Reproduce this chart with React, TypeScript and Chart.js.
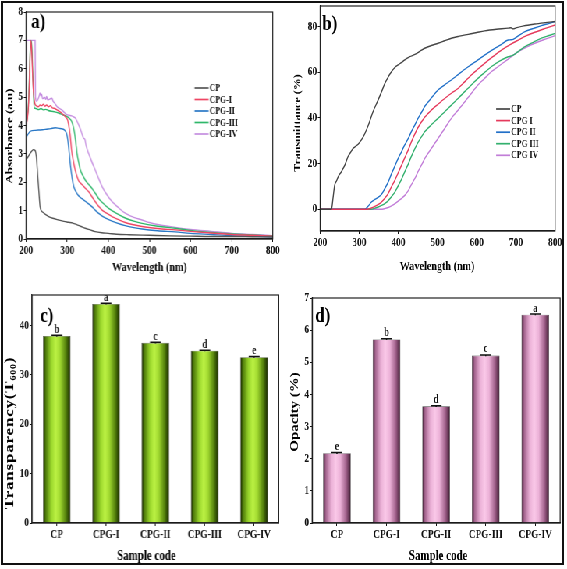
import React, { useEffect, useRef } from "react";
import { Chart, registerables } from "chart.js";
Chart.register(...registerables);

const S = 0.78; // horizontal squeeze of the whole figure
const FONT = "'Liberation Serif', 'Times New Roman', serif";

// ---------- Panel a: absorbance ----------
const wavelengthTicks = [200, 300, 400, 500, 600, 700, 800];
const absTicks = [0, 1, 2, 3, 4, 5, 6, 7, 8];
const absLabels = ["CP", "CPG-I", "CPG-II", "CPG-III", "CPG-IV"];
const absColors = ["#555555", "#ee4563", "#2a78c6", "#2fb76a", "#c58ee0"];

const absCP: [number, number][] = [
  [200, 2.79], [205, 2.9], [210, 3.02], [215, 3.12], [218, 3.15], [222, 3.12], [225, 2.9], [228, 2.3],
  [231, 1.7], [234, 1.15], [237, 1.0], [240, 0.95], [247, 0.87], [254, 0.8], [265, 0.73], [279, 0.67],
  [292, 0.62], [303, 0.59], [314, 0.56], [324, 0.5], [334, 0.44], [344, 0.38], [356, 0.32], [368, 0.26],
  [384, 0.22], [400, 0.2], [420, 0.17], [450, 0.15], [500, 0.13], [550, 0.11], [600, 0.1], [650, 0.09],
  [700, 0.09], [750, 0.08], [800, 0.07],
];
const absCPG1: [number, number][] = [
  [200, 4.0], [203, 4.2], [206, 4.7], [208, 5.5], [210, 6.5], [212, 7.0], [214, 6.6], [216, 5.8],
  [218, 5.2], [220, 4.9], [222, 4.75], [226, 4.68], [230, 4.66], [234, 4.72], [238, 4.7], [242, 4.75],
  [246, 4.68], [250, 4.72], [255, 4.66], [259, 4.7], [264, 4.62], [270, 4.6], [275, 4.55], [281, 4.5],
  [286, 4.44], [291, 4.38], [296, 4.3], [301, 4.2], [304, 4.0], [307, 3.7], [309, 3.4], [311, 3.1],
  [315, 2.75], [320, 2.4], [324, 2.2], [328, 2.05], [334, 1.95], [340, 1.86], [346, 1.76], [352, 1.67],
  [360, 1.5], [368, 1.32], [376, 1.16], [385, 1.02], [397, 0.9], [409, 0.79], [425, 0.68], [441, 0.58],
  [462, 0.5], [482, 0.44], [520, 0.37], [563, 0.32], [600, 0.27], [650, 0.21], [700, 0.16], [750, 0.13],
  [800, 0.1],
];
const absCPG2: [number, number][] = [
  [200, 3.55], [203, 3.65], [207, 3.74], [210, 3.79], [215, 3.82], [222, 3.83], [230, 3.84], [240, 3.85],
  [250, 3.87], [260, 3.89], [271, 3.92], [280, 3.9], [288, 3.88], [294, 3.83], [299, 3.7], [302, 3.45],
  [305, 3.05], [308, 2.6], [312, 2.15], [316, 1.85], [322, 1.65], [328, 1.52], [336, 1.42], [344, 1.33],
  [352, 1.24], [360, 1.14], [368, 1.02], [376, 0.91], [388, 0.78], [401, 0.68], [420, 0.57], [441, 0.47],
  [462, 0.4], [482, 0.35], [520, 0.29], [563, 0.25], [600, 0.2], [650, 0.16], [700, 0.12], [750, 0.1],
  [800, 0.08],
];
const absCPG3: [number, number][] = [
  [200, 4.0], [203, 4.25], [206, 4.8], [208, 5.6], [210, 6.6], [212, 7.0], [214, 6.8], [216, 6.0],
  [218, 5.2], [220, 4.62], [224, 4.6], [230, 4.56], [236, 4.6], [242, 4.55], [248, 4.57], [254, 4.53],
  [262, 4.5], [270, 4.48], [279, 4.44], [289, 4.38], [299, 4.32], [305, 4.26], [311, 4.14], [315, 3.95],
  [318, 3.73], [321, 3.4], [324, 3.02], [328, 2.7], [332, 2.44], [338, 2.24], [344, 2.08], [352, 1.93],
  [360, 1.79], [368, 1.62], [376, 1.44], [388, 1.25], [401, 1.08], [420, 0.9], [441, 0.74], [462, 0.63],
  [482, 0.55], [520, 0.45], [563, 0.38], [600, 0.3], [650, 0.23], [700, 0.18], [750, 0.14], [800, 0.11],
];
const absCPG4: [number, number][] = [
  [200, 4.0], [201, 7.0], [222, 7.0], [223, 5.0], [226, 4.85], [230, 4.96], [232, 5.05], [234, 5.15],
  [236, 5.05], [238, 5.1], [240, 4.95], [242, 4.96], [245, 5.0], [248, 4.92], [250, 5.02], [253, 4.9],
  [256, 4.92], [260, 4.95], [263, 4.96], [266, 4.85], [270, 4.78], [275, 4.67], [281, 4.6], [287, 4.55],
  [293, 4.46], [299, 4.38], [305, 4.36], [311, 4.34], [316, 4.3], [320, 4.26], [324, 4.15], [328, 4.02],
  [334, 3.8], [340, 3.55], [343, 3.52], [346, 3.3], [352, 3.02], [360, 2.72], [368, 2.44], [376, 2.15],
  [385, 1.85], [397, 1.55], [409, 1.32], [425, 1.1], [441, 0.91], [462, 0.76], [482, 0.67], [500, 0.58],
  [523, 0.5], [563, 0.41], [600, 0.34], [650, 0.27], [700, 0.2], [750, 0.16], [800, 0.12],
];

// ---------- Panel b: transmittance ----------
const transTicks = [0, 20, 40, 60, 80];
const transLabels = ["CP", "CPG I", "CPG II", "CPG III", "CPG IV"];
const transColors = ["#454545", "#e53a5c", "#2270c8", "#33b06e", "#c27ed8"];

const transCP: [number, number][] = [
  [200, 0], [229, 0], [233, 5], [237, 10.5], [242, 12.5], [246, 14.2], [254, 16.4], [263, 19.3],
  [271, 23], [278, 25], [284, 26.6], [290, 27.5], [297, 28.5], [310, 31.7], [323, 36.8], [335, 42.7],
  [348, 47.8], [357, 51.5], [365, 55], [374, 58], [382, 60.2], [390, 62], [399, 63.2], [408, 64.3],
  [416, 65.4], [429, 66.8], [442, 67.8], [455, 69.2], [467, 70.5], [484, 71.7], [501, 72.7], [518, 73.8],
  [535, 74.9], [556, 75.8], [578, 76.6], [600, 77.4], [620, 78.1], [650, 78.8], [680, 79.3], [687, 79.5],
  [693, 79], [700, 79.4], [720, 80.3], [748, 81.1], [775, 81.7], [800, 82.2],
];
const transCPG1: [number, number][] = [
  [200, 0], [320, 0], [330, 0.5], [340, 1.3], [350, 2.3], [357, 3.2], [365, 4.8], [374, 7.0],
  [382, 9.8], [391, 12.8], [399, 15.9], [408, 19.3], [416, 22.5], [425, 26], [433, 29.5], [442, 33],
  [450, 35.8], [459, 38.3], [467, 40.3], [476, 42], [484, 43.4], [501, 46], [518, 48.5], [535, 50.8],
  [552, 52.9], [569, 55.8], [586, 58.8], [603, 61.4], [620, 63.9], [641, 66.8], [663, 69.7], [684, 72],
  [706, 74.1], [727, 76], [748, 77.5], [775, 79.2], [800, 80.7],
];
const transCPG2: [number, number][] = [
  [200, 0], [314, 0], [322, 1.2], [331, 3.2], [340, 4.3], [348, 5.2], [357, 6.6], [365, 9],
  [374, 12], [382, 15.5], [391, 19], [399, 22.2], [408, 25.3], [416, 28.2], [425, 31], [433, 34],
  [442, 37], [450, 39.8], [459, 42.5], [467, 45], [476, 47], [488, 49.6], [501, 52.2], [518, 54.5],
  [535, 56.6], [556, 59.5], [578, 62.4], [600, 65], [620, 67.5], [641, 69.9], [663, 72.2], [680, 74.1],
  [687, 74.2], [693, 74.4], [708, 76.2], [723, 77.8], [745, 79.2], [765, 80.4], [785, 81.4], [800, 82.2],
];
const transCPG3: [number, number][] = [
  [200, 0], [330, 0], [340, 0.5], [350, 1.1], [357, 1.7], [365, 2.5], [374, 3.8], [382, 5.5],
  [391, 7.6], [399, 10.2], [408, 13.2], [416, 16.4], [425, 19.8], [433, 23.2], [442, 26.6], [450, 29.3],
  [459, 31.8], [467, 33.9], [484, 37], [501, 39.8], [518, 42.7], [535, 45.6], [552, 48.5], [569, 51.5],
  [586, 54.4], [603, 57.3], [620, 59.9], [637, 62.4], [659, 65], [680, 66.8], [687, 67.1], [693, 67.5],
  [708, 69.4], [723, 71.2], [745, 73.2], [765, 74.9], [785, 76.1], [800, 77],
];
const transCPG4: [number, number][] = [
  [200, 0], [355, 0], [365, 0.3], [374, 0.8], [382, 1.5], [391, 2.5], [399, 3.6], [408, 4.8],
  [416, 6.1], [425, 8.2], [433, 10.8], [442, 13.5], [450, 16.5], [459, 19.4], [467, 22.2], [484, 26.6],
  [501, 31], [518, 35.4], [535, 39.8], [552, 43.4], [569, 47], [586, 50.7], [603, 54.4], [620, 57.3],
  [637, 60.2], [654, 62.4], [671, 64.6], [688, 66.8], [706, 69], [727, 71], [748, 72.7], [775, 74.5],
  [800, 76],
];

// ---------- Panels c & d: bars ----------
const sampleCodes = ["CP", "CPG-I", "CPG-II", "CPG-III", "CPG-IV"];
const transparency = [37.9, 44.4, 36.5, 34.9, 33.6];
const transparencyErr = [0.15, 0.15, 0.12, 0.12, 0.12];
const transparencyLetters = ["b", "a", "c", "d", "e"];
const transparencyTicks = [0, 10, 20, 30, 40];
const opacity = [2.17, 5.71, 3.63, 5.21, 6.48];
const opacityErr = [0.02, 0.02, 0.02, 0.02, 0.02];
const opacityLetters = ["e", "b", "d", "c", "a"];
const opacityTicks = [0, 1, 2, 3, 4, 5, 6, 7];

const greenStops: [number, string][] = [
  [0, "#142000"], [0.1, "#4f7c0a"], [0.3, "#9ad62c"], [0.46, "#bcf244"],
  [0.62, "#a0d830"], [0.84, "#507c0a"], [1, "#142000"],
];
const pinkStops: [number, string][] = [
  [0, "#3a1a2e"], [0.1, "#a4648e"], [0.3, "#eab0d6"], [0.46, "#fac8e8"],
  [0.62, "#ecb2d8"], [0.84, "#9c5c86"], [1, "#3a1a2e"],
];

// ---------- geometry (outer page pixels) ----------
type Panel = { x: number; y: number; w: number; h: number; l: number; t: number; r: number; b: number };
const PA: Panel = { x: 0, y: 0, w: 283, h: 280, l: 26, t: 12, r: 272, b: 239 };
const PB: Panel = { x: 283, y: 0, w: 284, h: 280, l: 320, t: 6, r: 555, b: 231 };
const PC: Panel = { x: 0, y: 280, w: 283, h: 289, l: 32, t: 295, r: 278, b: 523 };
const PD: Panel = { x: 283, y: 280, w: 284, h: 289, l: 312, t: 298, r: 560, b: 523 };

const LX = (p: Panel, X: number) => (X - p.x) / S;
const LY = (p: Panel, Y: number) => Y - p.y;

function zeroPad(s: any) {
  s.paddingLeft = 0; s.paddingRight = 0; s.paddingTop = 0; s.paddingBottom = 0;
}
const fitY = (p: Panel) => (s: any) => { s.width = (p.l - p.x) / S; zeroPad(s); };
const fitX = (p: Panel) => (s: any) => { s.height = p.y + p.h - p.b; zeroPad(s); };
const layoutFor = (p: Panel) => ({
  padding: { left: 0, top: p.t - p.y, right: (p.x + p.w - p.r) / S, bottom: 0 },
});

type Deco = {
  panel: Panel;
  label: string; labelAt: [number, number];
  xTitle: string; xTitleAt: [number, number]; xTitleSize: number;
  yTitle: string; yTitleSub?: string; yTitleTail?: string; yTitleAt: [number, number]; yTitleSize: number;
  yTitleSpacing?: number;
  legend?: { labels: string[]; colors: string[]; x: number; ys: number[] };
  bars?: { values: number[]; errs: number[]; letters: string[] };
};

function decoPlugin(d: Deco) {
  return {
    id: "deco",
    afterDatasetsDraw(chart: any) {
      const ctx: CanvasRenderingContext2D = chart.ctx;
      const ca = chart.chartArea;
      const p = d.panel;
      ctx.save();
      ctx.fillStyle = "#111";
      ctx.strokeStyle = "#111";
      // error bars + letters
      if (d.bars) {
        const meta = chart.getDatasetMeta(0);
        const ys = chart.scales.y;
        d.bars.values.forEach((v, i) => {
          const x = meta.data[i].x;
          const top = ys.getPixelForValue(v + d.bars!.errs[i]);
          const bot = ys.getPixelForValue(v - d.bars!.errs[i]);
          ctx.lineWidth = 1.5;
          ctx.beginPath();
          ctx.moveTo(x, bot); ctx.lineTo(x, top);
          ctx.moveTo(x - 7, top); ctx.lineTo(x + 7, top);
          ctx.stroke();
          ctx.font = `bold 12px ${FONT}`;
          ctx.textAlign = "center";
          ctx.textBaseline = "alphabetic";
          ctx.fillText(d.bars!.letters[i], x, top - 2.5);
        });
      }
      // frame
      ctx.lineWidth = 1.2;
      ctx.strokeStyle = "#222";
      ctx.strokeRect(ca.left, ca.top, ca.right - ca.left, ca.bottom - ca.top);
      // legend
      if (d.legend) {
        const lg = d.legend;
        lg.labels.forEach((t, i) => {
          const y = LY(p, lg.ys[i]);
          ctx.strokeStyle = lg.colors[i];
          ctx.lineWidth = 1.7;
          ctx.beginPath();
          ctx.moveTo(LX(p, lg.x), y); ctx.lineTo(LX(p, lg.x + 14), y);
          ctx.stroke();
          ctx.fillStyle = "#111";
          ctx.font = `bold 10px ${FONT}`;
          ctx.textAlign = "left";
          ctx.textBaseline = "middle";
          ctx.fillText(t, LX(p, lg.x + 15), y + 0.5);
        });
      }
      // panel label
      ctx.fillStyle = "#000";
      ctx.font = `bold 22px ${FONT}`;
      ctx.textAlign = "left";
      ctx.textBaseline = "alphabetic";
      ctx.fillText(d.label, LX(p, d.labelAt[0]), LY(p, d.labelAt[1]));
      // x title
      ctx.font = `bold ${d.xTitleSize}px ${FONT}`;
      ctx.textAlign = "center";
      ctx.textBaseline = "middle";
      ctx.fillText(d.xTitle, LX(p, d.xTitleAt[0]), LY(p, d.xTitleAt[1]));
      // y title (rotated)
      ctx.save();
      ctx.translate(LX(p, d.yTitleAt[0]), LY(p, d.yTitleAt[1]));
      ctx.rotate(-Math.PI / 2);
      const main = `bold ${d.yTitleSize}px ${FONT}`;
      const sub = `bold ${Math.round(d.yTitleSize * 0.6)}px ${FONT}`;
      if (d.yTitleSpacing) (ctx as any).letterSpacing = `${d.yTitleSpacing}px`;
      ctx.textBaseline = "middle";
      ctx.textAlign = "left";
      ctx.font = main;
      const w1 = ctx.measureText(d.yTitle).width;
      ctx.font = sub;
      const w2 = d.yTitleSub ? ctx.measureText(d.yTitleSub).width : 0;
      ctx.font = main;
      const w3 = d.yTitleTail ? ctx.measureText(d.yTitleTail).width : 0;
      let cx = -(w1 + w2 + w3) / 2;
      ctx.fillText(d.yTitle, cx, 0);
      cx += w1;
      if (d.yTitleSub) {
        ctx.font = sub;
        ctx.fillText(d.yTitleSub, cx, d.yTitleSize * 0.28);
        cx += w2;
      }
      if (d.yTitleTail) {
        ctx.font = main;
        ctx.fillText(d.yTitleTail, cx, 0);
      }
      ctx.restore();
      ctx.restore();
    },
  };
}

const tickFont = (size: number) => ({ family: FONT, size, weight: "bold" as const });
const gridOpts = { display: true, drawOnChartArea: false, drawTicks: true, tickLength: 3, color: "#111" };
const borderOpts = { display: true, color: "#111", width: 1.2 };

function lineConfig(
  p: Panel,
  series: [number, number][][],
  colors: string[],
  yMin: number,
  yMax: number,
  yTicks: number[],
  deco: Deco
): any {
  return {
    type: "line",
    data: {
      datasets: series.map((s, i) => ({
        data: s.map(([x, y]) => ({ x, y })),
        borderColor: colors[i],
        borderWidth: 1.4,
        pointRadius: 0,
        fill: false,
        cubicInterpolationMode: "monotone",
      })),
    },
    options: {
      animation: false,
      responsive: true,
      maintainAspectRatio: false,
      events: [],
      layout: layoutFor(p),
      plugins: { legend: { display: false }, tooltip: { enabled: false } },
      scales: {
        x: {
          type: "linear", min: 200, max: 800,
          afterBuildTicks: (s: any) => { s.ticks = wavelengthTicks.map((v) => ({ value: v })); },
          afterFit: fitX(p),
          ticks: { font: tickFont(12), color: "#111", padding: 2, autoSkip: false, maxRotation: 0 },
          grid: gridOpts, border: borderOpts,
        },
        y: {
          type: "linear", min: yMin, max: yMax,
          afterBuildTicks: (s: any) => { s.ticks = yTicks.map((v) => ({ value: v })); },
          afterFit: fitY(p),
          ticks: { font: tickFont(12), color: "#111", padding: 1, autoSkip: false },
          grid: gridOpts, border: borderOpts,
        },
      },
    },
    plugins: [decoPlugin(deco)],
  };
}

const BAR_PCT = 0.56;
function gradFn(stops: [number, string][]) {
  return (c: any) => {
    const chart = c.chart;
    const xs = chart.scales && chart.scales.x;
    if (c.type !== "data" || !xs || !chart.chartArea) return stops[3][1];
    const cx = xs.getPixelForValue(c.dataIndex);
    const half = ((xs.right - xs.left) / sampleCodes.length) * BAR_PCT / 2;
    if (!isFinite(cx) || !isFinite(half) || half <= 0) return stops[3][1];
    const g = chart.ctx.createLinearGradient(cx - half, 0, cx + half, 0);
    stops.forEach(([o, col]) => g.addColorStop(o, col));
    return g;
  };
}

function barConfig(
  p: Panel,
  values: number[],
  stops: [number, string][],
  yMax: number,
  yTicks: number[],
  deco: Deco
): any {
  return {
    type: "bar",
    data: {
      labels: sampleCodes,
      datasets: [
        {
          data: values,
          backgroundColor: gradFn(stops),
          borderColor: "rgba(0,0,0,0.75)",
          borderWidth: 0.6,
          barPercentage: BAR_PCT,
          categoryPercentage: 1,
        },
      ],
    },
    options: {
      animation: false,
      responsive: true,
      maintainAspectRatio: false,
      events: [],
      layout: layoutFor(p),
      plugins: { legend: { display: false }, tooltip: { enabled: false } },
      scales: {
        x: {
          type: "category",
          afterFit: fitX(p),
          ticks: { font: tickFont(12), color: "#111", padding: 2, autoSkip: false, maxRotation: 0 },
          grid: { ...gridOpts, offset: false },
          border: borderOpts,
        },
        y: {
          type: "linear", min: 0, max: yMax,
          afterBuildTicks: (s: any) => { s.ticks = yTicks.map((v) => ({ value: v })); },
          afterFit: fitY(p),
          ticks: { font: tickFont(12), color: "#111", padding: 1, autoSkip: false },
          grid: gridOpts, border: borderOpts,
        },
      },
    },
    plugins: [decoPlugin(deco)],
  };
}

const makeA = () =>
  lineConfig(PA, [absCP, absCPG1, absCPG2, absCPG3, absCPG4], absColors, 0, 8, absTicks, {
    panel: PA, label: "a)", labelAt: [31, 28],
    xTitle: "Wavelength (nm)", xTitleAt: [149, 268], xTitleSize: 13,
    yTitle: "Absorbance (a.u)", yTitleAt: [10, 136], yTitleSize: 13,
    legend: { labels: absLabels, colors: absColors, x: 194, ys: [88, 99.5, 111, 122.5, 134] },
  });
const makeB = () =>
  lineConfig(PB, [transCP, transCPG1, transCPG2, transCPG3, transCPG4], transColors, -9.5, 89, transTicks, {
    panel: PB, label: "b)", labelAt: [322, 30],
    xTitle: "Wavelength (nm)", xTitleAt: [437, 267], xTitleSize: 13,
    yTitle: "Transmittance (%)", yTitleAt: [298, 123], yTitleSize: 12,
    legend: { labels: transLabels, colors: transColors, x: 496, ys: [109, 120.6, 132.2, 143.7, 155.3] },
  });
const makeC = () =>
  barConfig(PC, transparency, greenStops, 46.2, transparencyTicks, {
    panel: PC, label: "c)", labelAt: [40, 322],
    xTitle: "Sample code", xTitleAt: [146, 556], xTitleSize: 14,
    yTitle: "Transparency(T", yTitleSub: "600", yTitleTail: ")", yTitleAt: [10, 433], yTitleSize: 17,
    yTitleSpacing: 0.8,
    bars: { values: transparency, errs: transparencyErr, letters: transparencyLetters },
  });
const makeD = () =>
  barConfig(PD, opacity, pinkStops, 7, opacityTicks, {
    panel: PD, label: "d)", labelAt: [315, 322],
    xTitle: "Sample code", xTitleAt: [438, 556], xTitleSize: 14,
    yTitle: "Opacity (%)", yTitleAt: [295, 412], yTitleSize: 15,
    bars: { values: opacity, errs: opacityErr, letters: opacityLetters },
  });

function ChartBox({ panel, make }: { panel: Panel; make: () => any }) {
  const ref = useRef<HTMLCanvasElement>(null);
  useEffect(() => {
    const chart = new Chart(ref.current as HTMLCanvasElement, make());
    return () => chart.destroy();
  }, []);
  return (
    <div style={{ position: "absolute", left: panel.x / S, top: panel.y, width: panel.w / S, height: panel.h }}>
      <canvas ref={ref} />
    </div>
  );
}

export default function App() {
  return (
    <div style={{ position: "absolute", left: 0, top: 0, width: 567, height: 569, overflow: "hidden", background: "#fff" }}>
      <div
        style={{
          position: "absolute", left: 0, top: 0, width: 567 / S, height: 569,
          transform: `scaleX(${S})`, transformOrigin: "0 0",
        }}
      >
        <ChartBox panel={PA} make={makeA} />
        <ChartBox panel={PB} make={makeB} />
        <ChartBox panel={PC} make={makeC} />
        <ChartBox panel={PD} make={makeD} />
      </div>
      <div
        style={{
          position: "absolute", left: 1, top: 1, width: 563, height: 564,
          border: "2px solid #111", boxSizing: "border-box", pointerEvents: "none",
        }}
      />
    </div>
  );
}
